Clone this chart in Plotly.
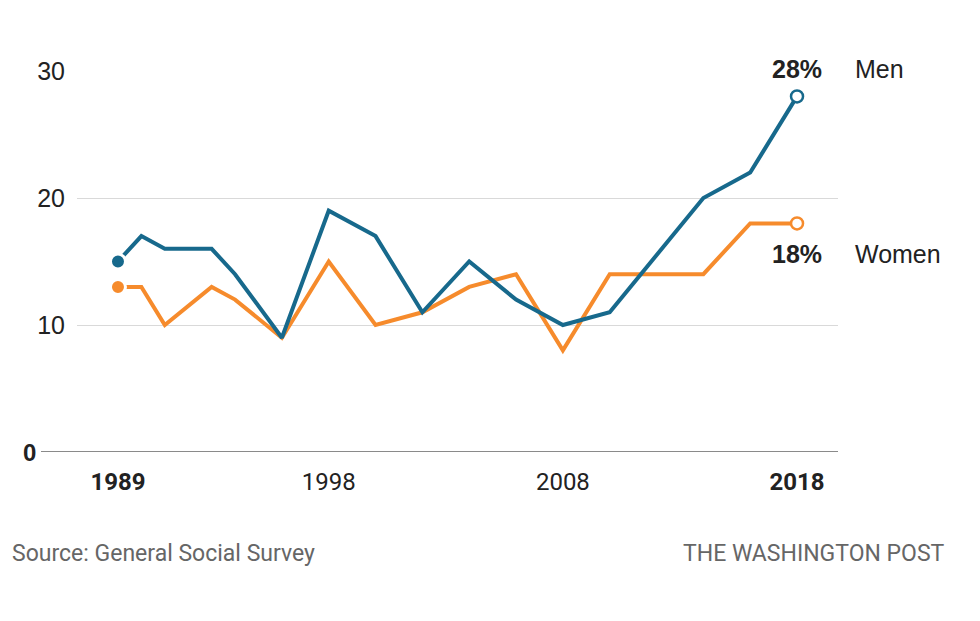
import plotly.graph_objects as go

years_men = [1989, 1990, 1991, 1993, 1994, 1996, 1998, 2000, 2002, 2004, 2006, 2008, 2010, 2012, 2014, 2016, 2018]
men = [15, 17, 16, 16, 14, 9, 19, 17, 11, 15, 12, 10, 11, 15.5, 20, 22, 28]
years_women = [1989, 1990, 1991, 1993, 1994, 1996, 1998, 2000, 2002, 2004, 2006, 2008, 2010, 2012, 2014, 2016, 2018]
women = [13, 13, 10, 13, 12, 9, 15, 10, 11, 13, 14, 8, 14, 14, 14, 18, 18]

x_ticks = [1989, 1998, 2008, 2018]
x_ticktext = ["<b>1989</b>", "1998", "2008", "<b>2018</b>"]
y_ticks = [10, 20, 30]
y_ticktext = ["10", "20", "30"]

BLUE = "#17698c"
ORANGE = "#f68b2c"

fig = go.Figure()
for xs, ys, col, name in [(years_women, women, ORANGE, "Women"), (years_men, men, BLUE, "Men")]:
    fig.add_trace(go.Scatter(x=xs, y=ys, mode="lines", line=dict(color=col, width=4),
                             name=name, showlegend=False, hoverinfo="skip", cliponaxis=False))
    fig.add_trace(go.Scatter(x=[xs[0]], y=[ys[0]], mode="markers",
                             marker=dict(color=col, size=15, line=dict(color="white", width=3)),
                             showlegend=False, hoverinfo="skip", cliponaxis=False))
    fig.add_trace(go.Scatter(x=[xs[-1]], y=[ys[-1]], mode="markers",
                             marker=dict(color="white", size=12, line=dict(color=col, width=2.5)),
                             showlegend=False, hoverinfo="skip", cliponaxis=False))

LEFT, RIGHT, TOP, BOTTOM = 77, 142, 71, 169
PW, PH = 980 - LEFT - RIGHT, 621 - TOP - BOTTOM
fig.update_layout(
    width=980, height=621,
    margin=dict(l=LEFT, r=RIGHT, t=TOP, b=BOTTOM),
    plot_bgcolor="white", paper_bgcolor="white",
    xaxis=dict(range=[1987.25, 2019.75], tickvals=x_ticks, ticktext=x_ticktext,
               showgrid=False, zeroline=False, showline=False, ticks="",
               ticklabelstandoff=13,
               tickfont=dict(family="Roboto, sans-serif", size=24, color="#222")),
    yaxis=dict(range=[0, 30], tickvals=y_ticks, ticktext=y_ticktext,
               showgrid=True, gridcolor="#d9d9d9", gridwidth=1, zeroline=False, showline=False,
               ticks="", ticklabelstandoff=11,
               tickfont=dict(family="Liberation Sans, Roboto, sans-serif", size=25, color="#222")),
)

# zero baseline extends left under the bold "0"
fig.add_shape(type="line", xref="paper", yref="y", x0=-(LEFT - 41) / PW, x1=1, y0=0, y1=0,
              line=dict(color="#8a8a8a", width=2), layer="below")
fig.add_annotation(xref="paper", yref="y", x=-(LEFT - 38) / PW, y=0, xanchor="right", yanchor="middle",
                   text="<b>0</b>", showarrow=False,
                   font=dict(family="Liberation Sans, Roboto, sans-serif", size=24, color="#222"))

lab_font = dict(family="Liberation Sans, Roboto, sans-serif", size=25, color="#222")
fig.add_annotation(x=years_men[-1], y=men[-1], text=f"<b>{men[-1]:g}%</b>", showarrow=False,
                   yshift=27, xanchor="center", yanchor="middle", font=lab_font)
fig.add_annotation(x=years_women[-1], y=women[-1], text=f"<b>{women[-1]:g}%</b>", showarrow=False,
                   yshift=-31, xanchor="center", yanchor="middle", font=lab_font)
fig.add_annotation(xref="paper", x=(853 - LEFT) / PW, y=men[-1], text="Men", showarrow=False,
                   yshift=27, xanchor="left", yanchor="middle", font=lab_font)
fig.add_annotation(xref="paper", x=(853 - LEFT) / PW, y=women[-1], text="Women", showarrow=False,
                   yshift=-31, xanchor="left", yanchor="middle", font=lab_font)

foot_font = dict(family="Roboto, sans-serif", size=23, color="#666")
fig.add_annotation(xref="paper", yref="paper", x=-(LEFT - 10) / PW, y=-(553 - 452) / PH,
                   text="Source: General Social Survey", showarrow=False,
                   xanchor="left", yanchor="middle", font=foot_font)
fig.add_annotation(xref="paper", yref="paper", x=(947 - LEFT) / PW, y=-(553 - 452) / PH,
                   text="THE WASHINGTON POST", showarrow=False,
                   xanchor="right", yanchor="middle", font=foot_font)

fig.write_html("out.html", config={"displayModeBar": False},
               post_script="document.body.style.margin='0';document.body.style.padding='0';")
